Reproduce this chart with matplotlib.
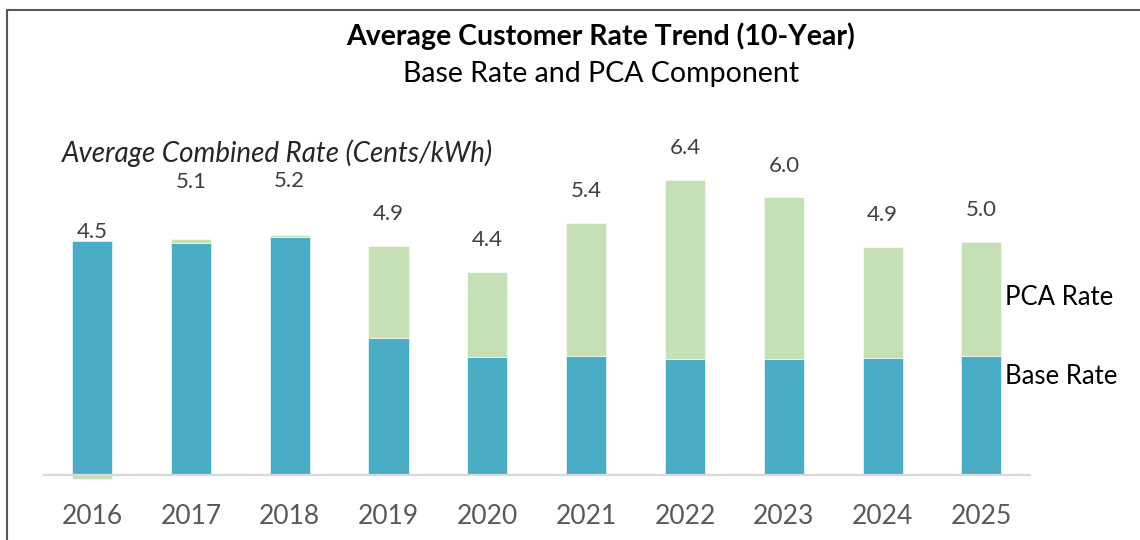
import matplotlib
matplotlib.use("Agg")
import matplotlib.pyplot as plt
from matplotlib.patches import Rectangle
import numpy as np

# values (cents/kWh)
YEARS = ["2016", "2017", "2018", "2019", "2020",
         "2021", "2022", "2023", "2024", "2025"]
BASE_RATE = [5.09, 5.05, 5.16, 2.98, 2.57, 2.59, 2.53, 2.52, 2.55, 2.59]
PCA_RATE = [-0.08, 0.08, 0.06, 1.99, 1.84, 2.89, 3.87, 3.51, 2.40, 2.47]
TOTAL_LABELS = ["4.5", "5.1", "5.2", "4.9", "4.4",
                "5.4", "6.4", "6.0", "4.9", "5.0"]

BLUE = "#4bacc6"
GREEN = "#c5e0b4"
FONT = ["Lato", "DejaVu Sans"]

# label offset above bar top (points); first three were hand-placed
LABEL_OFFSET = 23
LABEL_NUDGE = {0: -17, 1: 18, 2: 16}

plt.rcParams["font.family"] = FONT

fig = plt.figure(figsize=(11.4, 5.4), dpi=100)
# y-scale: 46 px per cent, baseline at 475 px
ax = fig.add_axes([42.6 / 1140, (540 - 484.2) / 540, 988.3 / 1140, 345.2 / 540])

x = np.arange(len(YEARS))
base = np.array(BASE_RATE)
pca = np.array(PCA_RATE)
w = 0.405
ax.bar(x, base, w, color=BLUE, edgecolor="white", lw=0.4, zorder=2)
pca_bottom = np.where(pca >= 0, base, 0)
ax.bar(x, pca, w, bottom=pca_bottom, color=GREEN, edgecolor="white", lw=0.4, zorder=2)
ax.axhline(0, color="#d9d9d9", lw=1.6, zorder=3)

for i, lab in enumerate(TOTAL_LABELS):
    top = base[i] + max(pca[i], 0)
    ax.annotate(lab, (x[i], top), xytext=(0, LABEL_OFFSET + LABEL_NUDGE.get(i, 0)),
                textcoords="offset points", ha="center", va="center",
                fontsize=16, color="#404040")

ax.set_xlim(-0.5, len(YEARS) - 0.5)
ax.set_ylim(-0.2, 7.3)
ax.set_xticks(x)
ax.set_xticklabels(YEARS, fontsize=19, color="#595959")
ax.tick_params(axis="x", length=0, pad=14)
ax.set_yticks([])
for s in ax.spines.values():
    s.set_visible(False)

# series names beside the last bar
ax.text(x[-1] + w / 2 + 0.035, 3.85, "PCA Rate", ha="left", va="center",
        fontsize=18.5, color="black", clip_on=False)
ax.text(x[-1] + w / 2 + 0.035, 2.15, "Base Rate", ha="left", va="center",
        fontsize=18.5, color="black", clip_on=False)

fig.text(601 / 1140, 1 - 36 / 540, "Average Customer Rate Trend (10-Year)",
         ha="center", va="center", fontsize=20.5, fontweight="bold", color="black")
fig.text(601 / 1140, 1 - 74 / 540, "Base Rate and PCA Component",
         ha="center", va="center", fontsize=20.5, color="black")
fig.text(62 / 1140, 1 - 153 / 540, "Average Combined Rate (Cents/kWh)",
         ha="left", va="center", fontsize=20, style="italic", color="#262626")

# chart frame (right/bottom edges fall outside the image)
fig.patches.append(Rectangle((7 / 1140, -0.1), 1.2, 1 - 9.5 / 540 + 0.1,
                             transform=fig.transFigure, fill=False,
                             ec="#595959", lw=1.5))

fig.savefig("out.png", dpi=100, facecolor="white")
